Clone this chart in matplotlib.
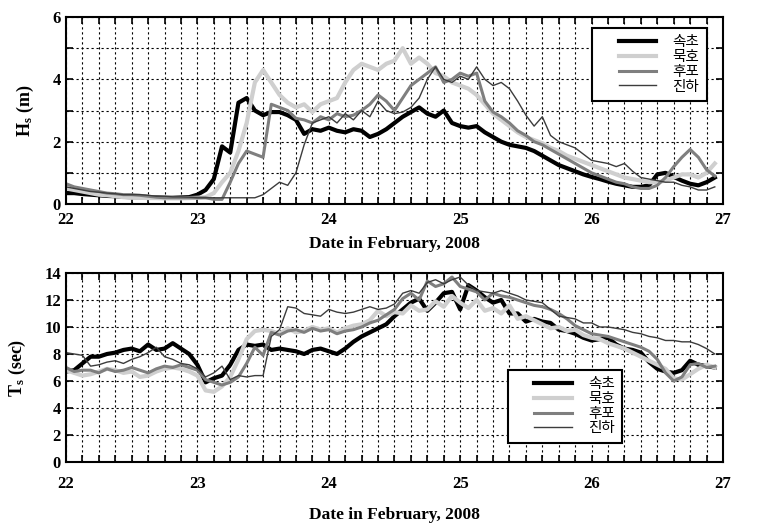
import numpy as np
import matplotlib
matplotlib.use("Agg")
import matplotlib.pyplot as plt
from matplotlib.ticker import MultipleLocator
from matplotlib.legend_handler import HandlerLine2D
from matplotlib.lines import Line2D

plt.rcParams['font.family'] = ['Liberation Serif', 'Noto Sans CJK KR']
plt.rcParams['font.weight'] = 'bold'
plt.rcParams['mathtext.fontset'] = 'custom'
plt.rcParams['mathtext.rm'] = 'Liberation Serif:bold'
plt.rcParams['mathtext.it'] = 'Liberation Serif:bold'

# time axis: 1.5 hour steps, 22 Feb 00:00 .. 26 Feb 22:30
days = 22 + np.arange(80) / 16

names = ["속초", "묵호", "후포", "진하"]

# significant wave height Hs (m)
hs_sokcho = [0.35, 0.35, 0.32, 0.30, 0.28, 0.26, 0.25, 0.23, 0.22, 0.22, 0.21, 0.21, 0.20, 0.20, 0.21, 0.22,
             0.30, 0.45, 0.80, 1.85, 1.65, 3.25, 3.40, 3.00, 2.85, 2.95, 2.95, 2.85, 2.70, 2.25, 2.40, 2.35,
             2.45, 2.35, 2.30, 2.40, 2.35, 2.15, 2.25, 2.40, 2.60, 2.80, 2.95, 3.10, 2.90, 2.80, 3.00, 2.60,
             2.50, 2.45, 2.50, 2.30, 2.15, 2.00, 1.90, 1.85, 1.80, 1.70, 1.55, 1.40, 1.25, 1.15, 1.05, 0.95,
             0.87, 0.80, 0.72, 0.65, 0.60, 0.55, 0.55, 0.60, 0.95, 1.00, 0.87, 0.75, 0.65, 0.60, 0.70, 0.85]
hs_mukho = [0.50, 0.45, 0.40, 0.35, 0.30, 0.28, 0.25, 0.22, 0.20, 0.20, 0.19, 0.19, 0.18, 0.18, 0.18, 0.19,
            0.20, 0.22, 0.35, 0.70, 1.00, 1.70, 2.60, 3.90, 4.30, 3.90, 3.50, 3.25, 3.10, 3.20, 2.95, 3.20,
            3.30, 3.40, 3.90, 4.30, 4.50, 4.40, 4.30, 4.50, 4.60, 5.00, 4.50, 4.70, 4.50, 4.20, 4.10, 3.90,
            3.80, 3.70, 3.50, 3.20, 2.90, 2.70, 2.50, 2.30, 2.15, 2.05, 1.95, 1.80, 1.70, 1.55, 1.45, 1.35,
            1.25, 1.15, 1.05, 0.95, 0.85, 0.80, 0.75, 0.70, 0.70, 0.75, 0.85, 0.95, 0.95, 0.85, 1.00, 1.30]
hs_hupo = [0.65, 0.55, 0.50, 0.45, 0.40, 0.35, 0.33, 0.30, 0.30, 0.28, 0.25, 0.22, 0.20, 0.20, 0.20, 0.20,
           0.20, 0.20, 0.15, 0.15, 0.70, 1.30, 1.70, 1.60, 1.50, 3.20, 3.10, 3.00, 2.75, 2.70, 2.60, 2.80,
           2.70, 2.90, 2.80, 2.85, 3.00, 3.20, 3.50, 3.30, 3.00, 3.40, 3.80, 4.00, 4.20, 4.40, 3.90, 4.00,
           4.20, 4.10, 4.20, 3.30, 2.95, 2.80, 2.60, 2.35, 2.20, 2.00, 1.90, 1.75, 1.60, 1.45, 1.30, 1.15,
           1.00, 0.90, 0.80, 0.70, 0.65, 0.55, 0.50, 0.50, 0.60, 0.85, 1.20, 1.50, 1.75, 1.50, 1.10, 0.90]
hs_jinha = [0.55, 0.50, 0.45, 0.40, 0.38, 0.35, 0.33, 0.30, 0.30, 0.30, 0.28, 0.25, 0.25, 0.23, 0.23, 0.22,
            0.20, 0.20, 0.20, 0.20, 0.20, 0.20, 0.20, 0.20, 0.30, 0.50, 0.70, 0.60, 1.00, 1.90, 2.60, 2.70,
            2.80, 2.60, 2.90, 2.70, 3.00, 2.80, 3.30, 3.00, 2.90, 2.95, 3.10, 3.40, 4.00, 4.40, 4.00, 3.90,
            4.10, 4.00, 4.40, 4.00, 3.80, 3.90, 3.70, 3.30, 2.85, 2.50, 2.80, 2.20, 2.00, 1.90, 1.80, 1.60,
            1.40, 1.35, 1.30, 1.20, 1.30, 1.05, 0.85, 0.80, 0.75, 0.70, 0.70, 0.60, 0.55, 0.45, 0.45, 0.55]

# significant wave period Ts (sec)
ts_sokcho = [6.7, 6.8, 7.3, 7.8, 7.8, 8.0, 8.1, 8.3, 8.4, 8.2, 8.7, 8.3, 8.4, 8.8, 8.4, 8.0,
             7.2, 5.9, 6.2, 6.4, 7.2, 8.3, 8.7, 8.6, 8.7, 8.3, 8.4, 8.3, 8.2, 8.0, 8.3, 8.4,
             8.2, 8.0, 8.4, 8.9, 9.3, 9.6, 9.9, 10.2, 10.8, 11.3, 11.8, 12.1, 11.2, 11.8, 12.5, 12.6,
             11.3, 13.1, 12.7, 12.2, 11.8, 12.0, 11.0, 11.0, 10.4, 10.6, 10.4, 10.3, 9.8, 9.7, 9.5, 9.2,
             9.0, 9.1, 9.2, 8.7, 8.4, 8.3, 8.1, 7.4, 6.9, 6.7, 6.6, 6.8, 7.5, 7.2, 7.1, 7.0]
ts_mukho = [6.8, 6.6, 6.4, 6.5, 6.7, 6.9, 6.8, 6.6, 6.7, 6.3, 6.4, 6.7, 6.9, 7.0, 6.9, 6.7,
            6.4, 5.3, 5.2, 5.6, 6.3, 7.6, 9.1, 9.7, 9.8, 9.7, 9.5, 9.9, 9.6, 9.7, 10.0, 9.8,
            9.9, 9.6, 9.9, 10.1, 10.2, 10.5, 11.2, 10.8, 11.1, 11.0, 11.6, 11.2, 11.3, 11.9, 11.5, 12.3,
            11.8, 11.4, 12.0, 11.2, 11.4, 11.0, 11.6, 10.6, 10.8, 10.5, 10.2, 9.9, 10.0, 9.7, 9.8, 9.4,
            9.2, 9.1, 8.8, 8.6, 8.4, 8.1, 7.8, 7.5, 7.2, 6.9, 6.2, 6.1, 6.5, 6.9, 7.2, 7.0]
ts_hupo = [7.0, 6.7, 6.8, 6.8, 6.6, 6.9, 6.7, 6.8, 7.0, 6.8, 6.6, 6.9, 7.1, 7.0, 7.2, 7.0,
           6.8, 6.1, 5.9, 5.7, 5.9, 6.3, 7.3, 8.5, 7.9, 9.6, 9.4, 9.7, 9.8, 9.6, 9.9, 9.7,
           9.8, 9.5, 9.7, 9.8, 10.0, 10.3, 10.5, 10.9, 11.3, 12.1, 12.5, 12.0, 13.4, 13.0, 13.2, 13.7,
           13.0, 12.8, 12.6, 12.0, 12.5, 12.3, 12.2, 12.0, 11.8, 11.6, 11.5, 11.3, 11.0, 10.6, 10.1, 9.8,
           9.5, 9.4, 9.3, 9.1, 8.9, 8.7, 8.5, 8.2, 7.6, 6.6, 6.0, 6.3, 7.2, 7.3, 7.0, 7.1]
ts_jinha = [8.1, 8.0, 7.9, 7.1, 7.2, 7.4, 7.5, 7.3, 7.6, 7.8, 8.1, 8.5, 7.8, 7.6, 7.3, 7.2,
            6.9, 6.3, 6.6, 7.1, 6.1, 6.4, 6.3, 6.4, 6.4, 9.3, 9.8, 11.5, 11.4, 11.0, 10.9, 10.8,
            11.3, 11.1, 11.0, 11.1, 11.3, 11.5, 11.3, 11.4, 11.7, 12.5, 12.7, 12.5, 13.3, 13.5, 13.2, 13.5,
            13.7, 13.1, 12.7, 12.6, 12.5, 12.7, 12.5, 12.3, 12.0, 11.9, 11.8, 11.3, 10.8, 10.7, 10.6, 10.3,
            10.3, 10.0, 10.0, 9.9, 9.8, 9.6, 9.5, 9.3, 9.2, 9.0, 9.0, 8.9, 8.9, 8.7, 8.4, 8.0]

colors = ['#000000', '#cfcfcf', '#7f7f7f', '#3c3c3c']
widths = [3.0, 3.0, 2.2, 1.0]

fig = plt.figure(figsize=(7.78, 5.28), dpi=100)
ax1 = fig.add_axes([0.0848, 0.6136, 0.8445, 0.3542])
ax2 = fig.add_axes([0.0848, 0.125, 0.8445, 0.358])


def style(ax, ymax, ystep, ylabel, pad, xlabelpad):
    ax.set_xlim(22, 27)
    ax.set_ylim(0, ymax)
    ax.xaxis.set_major_locator(MultipleLocator(1))
    ax.xaxis.set_minor_locator(MultipleLocator(0.125))
    ax.yaxis.set_major_locator(MultipleLocator(2))
    ax.yaxis.set_minor_locator(MultipleLocator(ystep))
    ax.grid(True, which='both', color='black', linestyle=(0, (2, 2.5)), linewidth=0.8)
    ax.tick_params(which='both', direction='in', top=True, right=True,
                   length=5, width=1.2, labelsize=12)
    ax.tick_params(axis='x', which='major', pad=pad)
    for s in ax.spines.values():
        s.set_linewidth(1.5)
    ax.set_xlabel("Date in February, 2008", fontsize=12.5, fontweight='bold', labelpad=xlabelpad)
    ax.set_ylabel(ylabel, fontsize=13, fontweight='bold', labelpad=12)
    for lab in ax.get_xticklabels() + ax.get_yticklabels():
        lab.set_fontweight('bold')


for ax, series in [(ax1, [hs_sokcho, hs_mukho, hs_hupo, hs_jinha]),
                   (ax2, [ts_sokcho, ts_mukho, ts_hupo, ts_jinha])]:
    for vals, name, c, w in zip(series, names, colors, widths):
        ax.plot(days, vals, color=c, linewidth=w, label=name)

style(ax1, 6, 1, r'H$_\mathrm{s}$ (m)', 6, 5.5)
style(ax2, 14, 2, r'T$_\mathrm{s}$ (sec)', 10, 11)

for ax, anchor in [(ax1, (0.975, 0.941)), (ax2, (0.847, 0.487))]:
    leg = ax.legend(loc='upper right', bbox_to_anchor=anchor, borderaxespad=0,
                    fancybox=False, edgecolor='black', framealpha=1,
                    prop={'family': ['Noto Sans CJK KR'], 'size': 10.5, 'weight': 'normal'},
                    handlelength=3.9, handletextpad=1.1, labelspacing=0.05,
                    borderpad=0.5,
                    handler_map={Line2D: HandlerLine2D(xpad=1.3)})
    leg.get_frame().set_linewidth(1.5)
    leg.set_zorder(5)

fig.savefig("out.png", dpi=100)
